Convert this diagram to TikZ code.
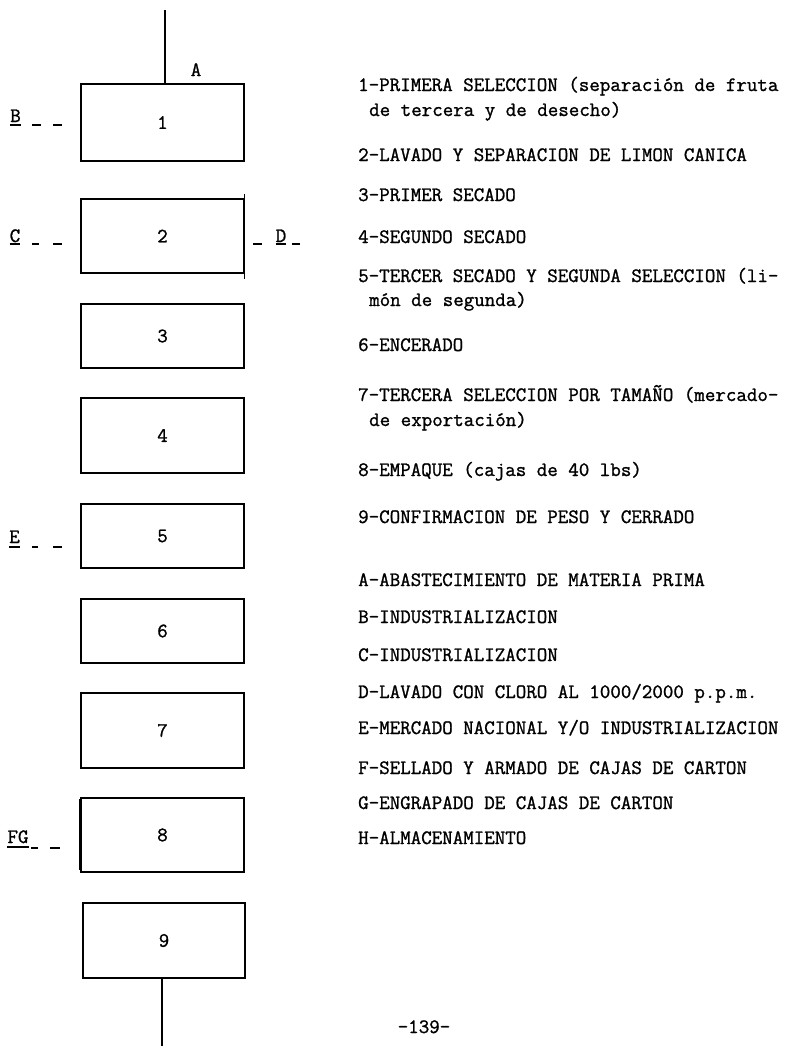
\documentclass[tikz,border=0pt]{standalone}
\usepackage{fontspec}
\newfontfamily\tw{Latin Modern Mono}[FakeBold=1.2]
\begin{document}
\begin{tikzpicture}[x=1pt,y=-1pt,
  stepbox/.style={draw, line width=1.3pt, minimum width=163pt, inner sep=0pt,
                  font=\tw\fontsize{20.4}{24}\selectfont},
  twtext/.style={font=\tw\fontsize{20.4}{24}\selectfont, inner sep=0pt},
  row/.style={twtext, anchor=base west},
  lbl/.style={twtext, anchor=base},
  tick/.style={line width=1.4pt},
  link/.style={line width=1.3pt}]
\useasboundingbox (0,0) rectangle (787,1049);

% boxes
\node[stepbox, minimum height=77pt] (b1) at (162.5,122.5) {1};
\node[stepbox, minimum height=74pt] (b2) at (162.5,236) {2};
\node[stepbox, minimum height=64pt] (b3) at (162.5,336) {3};
\node[stepbox, minimum height=75pt] (b4) at (162.5,435.5) {4};
\node[stepbox, minimum height=64pt] (b5) at (162.5,536) {5};
\node[stepbox, minimum height=64pt] (b6) at (162.5,631) {6};
\node[stepbox, minimum height=75pt] (b7) at (162.5,730.5) {7};
\node[stepbox, minimum height=74pt] (b8) at (162.5,835) {8};
\node[stepbox, minimum height=75pt, minimum width=162pt] (b9) at (164,940.5) {9};
\draw[line width=2.6pt] ([yshift=-2pt]b8.north west) -- ([yshift=3pt]b8.south west);
\draw[link] (b2.north east) -- ++(0,-4);
\draw[link] (b2.south east) -- ++(0,5);
\draw[link] (b3.north east) -- ++(0,8);

% in / out
\coordinate (top) at (165,10);
\coordinate (bot) at (162,1046);
\draw[link] (top) -- (top |- b1.north);
\draw[link] (b9.south -| bot) -- (bot);
\node[lbl] (A) at (196,76) {A};

% side labels
\node[lbl] (B) at (15.5,122) {B};
\draw[tick] ([yshift=-3pt]B.base west) -- ([yshift=-3pt]B.base east);
\coordinate (B1) at (32,125); \coordinate (B2) at (41,125);
\coordinate (B3) at (53,125); \coordinate (B4) at (62,125);
\draw[tick] (B1) -- (B2); \draw[tick] (B3) -- (B4);

\node[lbl] (C) at (15,242) {C};
\draw[tick] ([yshift=-2pt]C.base west) -- ([yshift=-2pt]C.base east);
\coordinate (C1) at (32,244); \coordinate (C2) at (39,244);
\coordinate (C3) at (53,244); \coordinate (C4) at (62,244);
\draw[tick] (C1) -- (C2); \draw[tick] (C3) -- (C4);

\node[lbl] (D) at (281,242) {D};
\draw[tick] ([yshift=-2pt]D.base west) -- ([yshift=-2pt]D.base east);
\coordinate (D1) at (253,244); \coordinate (D2) at (262,244);
\coordinate (D3) at (292,244); \coordinate (D4) at (300,244);
\draw[tick] (D1) -- (D2); \draw[tick] (D3) -- (D4);

\node[lbl] (E) at (14.5,543) {E};
\draw[tick] ([yshift=-4pt]E.base west) -- ([yshift=-4pt]E.base east);
\coordinate (E1) at (32,547); \coordinate (E2) at (38,547);
\coordinate (E3) at (53,547); \coordinate (E4) at (62,547);
\draw[tick] (E1) -- (E2); \draw[tick] (E3) -- (E4);

\node[lbl] (FG) at (18,843) {FG};
\draw[tick] ([yshift=-4pt]FG.base west) -- ([yshift=-4pt]FG.base east);
\coordinate (F1) at (31,848); \coordinate (F2) at (38,848);
\coordinate (F3) at (50,848); \coordinate (F4) at (60,848);
\draw[tick] (F1) -- (F2); \draw[tick] (F3) -- (F4);

% legend
\node[row] (t1)  at (358,91)  {1-PRIMERA SELECCION (separación de fruta};
\node[row] (t1b) at (369,116) {de tercera y de desecho)};
\node[row] (t2)  at (358,161) {2-LAVADO Y SEPARACION DE LIMON CANICA};
\node[row] (t3)  at (358,201) {3-PRIMER SECADO};
\node[row] (t4)  at (358,243) {4-SEGUNDO SECADO};
\node[row] (t5)  at (358,282) {5-TERCER SECADO Y SEGUNDA SELECCION (li-};
\node[row] (t5b) at (369,306) {món de segunda)};
\node[row] (t6)  at (358,351) {6-ENCERADO};
\node[row] (t7)  at (358,401) {7-TERCERA SELECCION POR TAMAÑO (mercado-};
\node[row] (t7b) at (369,426) {de exportación)};
\node[row] (t8)  at (358,476) {8-EMPAQUE (cajas de 40 lbs)};
\node[row] (t9)  at (358,523) {9-CONFIRMACION DE PESO Y CERRADO};
\node[row] (tA)  at (358,586) {A-ABASTECIMIENTO DE MATERIA PRIMA};
\node[row] (tB)  at (358,623) {B-INDUSTRIALIZACION};
\node[row] (tC)  at (358,661) {C-INDUSTRIALIZACION};
\node[row] (tD)  at (358,698) {D-LAVADO CON CLORO AL 1000/2000 p.p.m.};
\node[row] (tE)  at (358,734) {E-MERCADO NACIONAL Y/O INDUSTRIALIZACION};
\node[row] (tF)  at (358,774) {F-SELLADO Y ARMADO DE CAJAS DE CARTON};
\node[row] (tG)  at (358,809) {G-ENGRAPADO DE CAJAS DE CARTON};
\node[row] (tH)  at (358,844) {H-ALMACENAMIENTO};

\node[lbl] (pg) at (424,1033) {-139-};
\end{tikzpicture}
\end{document}
